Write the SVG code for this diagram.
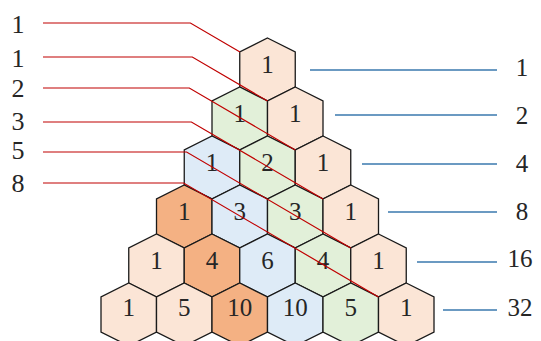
<svg xmlns="http://www.w3.org/2000/svg" xmlns:xlink="http://www.w3.org/1999/xlink" width="541" height="341" viewBox="0 0 541 341">
<style>
.hex{stroke:#1a1a1a;stroke-width:1.3;stroke-linejoin:miter}
.p{fill:#FBE5D6}.g{fill:#E2F0D9}.b{fill:#DEEBF7}.o{fill:#F4B183}
text{font-family:"Liberation Serif","DejaVu Serif",serif;fill:#262626;text-anchor:middle}
.n{font-size:25px}
.l{font-size:26px}
.red{fill:none;stroke:#C00000;stroke-width:1.2}
.blue{fill:none;stroke:#3A78AE;stroke-width:1.6}
</style>
<defs>
<polygon id="hx" points="0,0 27.75,14 27.75,49 0,63 -27.75,49 -27.75,14"/>
</defs>
<rect width="541" height="341" fill="#ffffff"/>
<g id="nodes">
<g id="n00" transform="translate(267.5,38)"><use xlink:href="#hx" class="hex p"/><text class="n" y="35">1</text></g>
<g id="n10" transform="translate(239.75,87)"><use xlink:href="#hx" class="hex g"/><text class="n" y="35">1</text></g>
<g id="n11" transform="translate(295.25,87)"><use xlink:href="#hx" class="hex p"/><text class="n" y="35">1</text></g>
<g id="n20" transform="translate(212,136)"><use xlink:href="#hx" class="hex b"/><text class="n" y="35">1</text></g>
<g id="n21" transform="translate(267.5,136)"><use xlink:href="#hx" class="hex g"/><text class="n" y="35">2</text></g>
<g id="n22" transform="translate(323,136)"><use xlink:href="#hx" class="hex p"/><text class="n" y="35">1</text></g>
<g id="n30" transform="translate(184.25,185)"><use xlink:href="#hx" class="hex o"/><text class="n" y="35">1</text></g>
<g id="n31" transform="translate(239.75,185)"><use xlink:href="#hx" class="hex b"/><text class="n" y="35">3</text></g>
<g id="n32" transform="translate(295.25,185)"><use xlink:href="#hx" class="hex g"/><text class="n" y="35">3</text></g>
<g id="n33" transform="translate(350.75,185)"><use xlink:href="#hx" class="hex p"/><text class="n" y="35">1</text></g>
<g id="n40" transform="translate(156.5,234)"><use xlink:href="#hx" class="hex p"/><text class="n" y="35">1</text></g>
<g id="n41" transform="translate(212,234)"><use xlink:href="#hx" class="hex o"/><text class="n" y="35">4</text></g>
<g id="n42" transform="translate(267.5,234)"><use xlink:href="#hx" class="hex b"/><text class="n" y="35">6</text></g>
<g id="n43" transform="translate(323,234)"><use xlink:href="#hx" class="hex g"/><text class="n" y="35">4</text></g>
<g id="n44" transform="translate(378.5,234)"><use xlink:href="#hx" class="hex p"/><text class="n" y="35">1</text></g>
<g id="n50" transform="translate(128.75,283)"><use xlink:href="#hx" class="hex p"/><text class="n" y="33">1</text></g>
<g id="n51" transform="translate(184.25,283)"><use xlink:href="#hx" class="hex p"/><text class="n" y="33">5</text></g>
<g id="n52" transform="translate(239.75,283)"><use xlink:href="#hx" class="hex o"/><text class="n" y="33">10</text></g>
<g id="n53" transform="translate(295.25,283)"><use xlink:href="#hx" class="hex b"/><text class="n" y="33">10</text></g>
<g id="n54" transform="translate(350.75,283)"><use xlink:href="#hx" class="hex g"/><text class="n" y="33">5</text></g>
<g id="n55" transform="translate(406.25,283)"><use xlink:href="#hx" class="hex p"/><text class="n" y="33">1</text></g>
</g>
<g id="connectors">
<path class="red" d="M43,23 H190.4 L240,52"/>
<path class="red" d="M43,57 H192.3 L267.5,101"/>
<path class="red" d="M43,88 H189.3 L295.25,150"/>
<path class="red" d="M43,122 H191.4 L323,199"/>
<path class="red" d="M43,152 H186.6 L350.75,248"/>
<path class="red" d="M43,183 H183.6 L378.5,297"/>
<path class="blue" d="M310,70 H497"/>
<path class="blue" d="M335,115 H497"/>
<path class="blue" d="M362,164 H497"/>
<path class="blue" d="M388,212 H497"/>
<path class="blue" d="M417,262 H497"/>
<path class="blue" d="M443,310 H497"/>
</g>
<g id="left-labels">
<text class="l" x="18" y="33">1</text>
<text class="l" x="18" y="67">1</text>
<text class="l" x="18" y="97">2</text>
<text class="l" x="18" y="130">3</text>
<text class="l" x="18" y="159">5</text>
<text class="l" x="18" y="192">8</text>
</g>
<g id="right-labels">
<text class="n" x="522" y="75.5">1</text>
<text class="n" x="522" y="123.5">2</text>
<text class="n" x="522" y="172">4</text>
<text class="n" x="522" y="220">8</text>
<text class="n" x="520" y="267">16</text>
<text class="n" x="520" y="316">32</text>
</g>
</svg>
